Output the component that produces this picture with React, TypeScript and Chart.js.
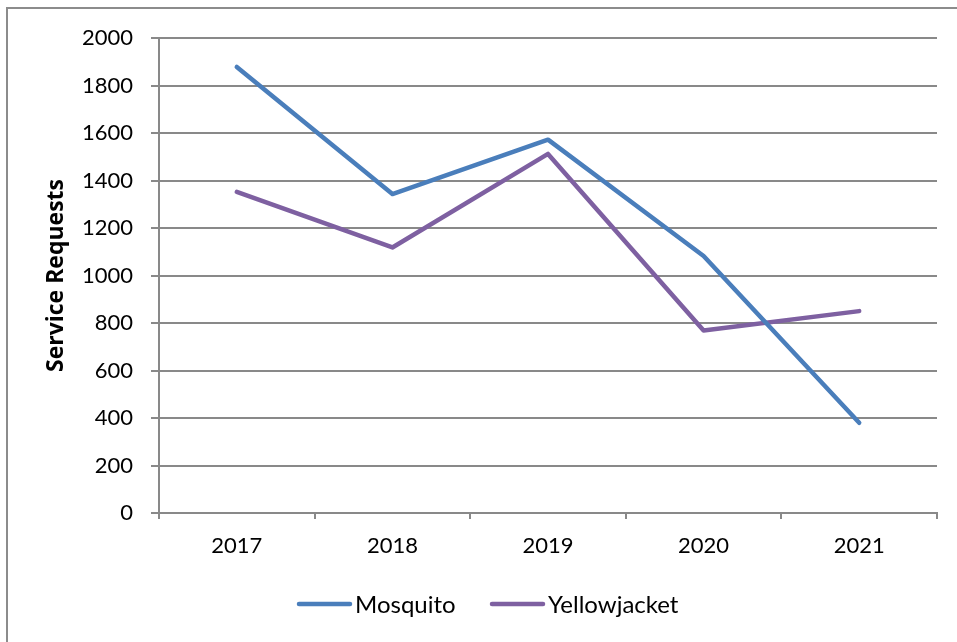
import React, { useEffect, useRef } from "react";
import { Chart, registerables } from "chart.js";

Chart.register(...registerables);

const years = ["2017", "2018", "2019", "2020", "2021"];
const mosquito = [1878, 1343, 1572, 1082, 380];
const yellowjacket = [1352, 1118, 1512, 768, 850];
const seriesNames = ["Mosquito", "Yellowjacket"];
const seriesColors = ["#4A7EBB", "#7E60A1"];
const yTitle = "Service Requests";

const FONT = "Lato, 'Open Sans', sans-serif";
const TITLE_FONT = "'Open Sans', Lato, sans-serif";
const GRID = "#898989";

const framePlugin = {
  id: "frame",
  beforeDraw(chart: any) {
    const ctx = chart.ctx;
    ctx.save();
    ctx.fillStyle = "#ffffff";
    ctx.fillRect(0, 0, chart.width, chart.height);
    ctx.strokeStyle = "#8c8c8c";
    ctx.lineWidth = 2;
    ctx.beginPath();
    ctx.moveTo(7, chart.height + 2);
    ctx.lineTo(7, 8);
    ctx.lineTo(chart.width + 2, 8);
    ctx.stroke();
    ctx.restore();
  },
};

const legendStarts = [297, 490];

const legendPlugin = {
  id: "customLegend",
  afterDraw(chart: any) {
    const ctx = chart.ctx;
    ctx.save();
    ctx.font = `24px ${FONT}`;
    ctx.textBaseline = "alphabetic";
    ctx.fillStyle = "#000";
    const lineLen = 55;
    const y = 604;
    chart.data.datasets.forEach((d: any, i: number) => {
      const x = legendStarts[i];
      ctx.strokeStyle = d.borderColor;
      ctx.lineWidth = 4.5;
      ctx.lineCap = "round";
      ctx.beginPath();
      ctx.moveTo(x + 2, y);
      ctx.lineTo(x + lineLen - 2, y);
      ctx.stroke();
      ctx.fillText(d.label, x + lineLen + 3, y + 9);
    });
    ctx.restore();
  },
};

export default function App() {
  const ref = useRef<HTMLCanvasElement>(null);
  useEffect(() => {
    if (!ref.current) return;
    const mk = (i: number, data: number[]) => ({
      label: seriesNames[i],
      data,
      borderColor: seriesColors[i],
      backgroundColor: seriesColors[i],
      borderWidth: 4.5,
      pointRadius: 0,
      borderCapStyle: "round" as const,
      borderJoinStyle: "round" as const,
      tension: 0,
    });
    const chart = new Chart(ref.current, {
      type: "line",
      data: {
        labels: years,
        datasets: [mk(0, mosquito), mk(1, yellowjacket)],
      },
      options: {
        responsive: false,
        animation: false,
        devicePixelRatio: 1,
        layout: { padding: { left: 0, right: 20, top: 38, bottom: 0 } },
        plugins: {
          legend: { display: false },
          tooltip: { enabled: false },
        },
        scales: {
          x: {
            offset: true,
            grid: {
              offset: true,
              drawOnChartArea: false,
              drawTicks: true,
              tickLength: 6,
              color: GRID,
              lineWidth: 2,
            },
            border: { color: GRID, width: 2 },
            ticks: {
              color: "#000",
              font: { family: FONT, size: 22 },
              padding: 14,
              maxRotation: 0,
            },
            afterFit: (s: any) => {
              s.height = 129;
            },
          },
          y: {
            min: 0,
            max: 2000,
            ticks: {
              stepSize: 200,
              color: "#000",
              font: { family: FONT, size: 22 },
              padding: 18,
              callback: (v: any) => String(v),
            },
            grid: {
              color: GRID,
              lineWidth: 2,
              tickLength: 8,
              drawTicks: true,
            },
            border: { color: GRID, width: 2 },
            title: {
              display: true,
              text: yTitle,
              color: "#000",
              font: { family: TITLE_FONT, size: 23, weight: "bold" },
              padding: { top: 43, bottom: 0 },
            },
            afterFit: (s: any) => {
              s.width = 159;
            },
          },
        },
      },
      plugins: [framePlugin, legendPlugin],
    });
    return () => chart.destroy();
  }, []);
  return (
    <div style={{ position: "fixed", left: 0, top: 0, width: 957, height: 642, overflow: "hidden", background: "#fff" }}>
      <canvas ref={ref} width={957} height={642} style={{ width: 957, height: 642, display: "block" }} />
    </div>
  );
}
